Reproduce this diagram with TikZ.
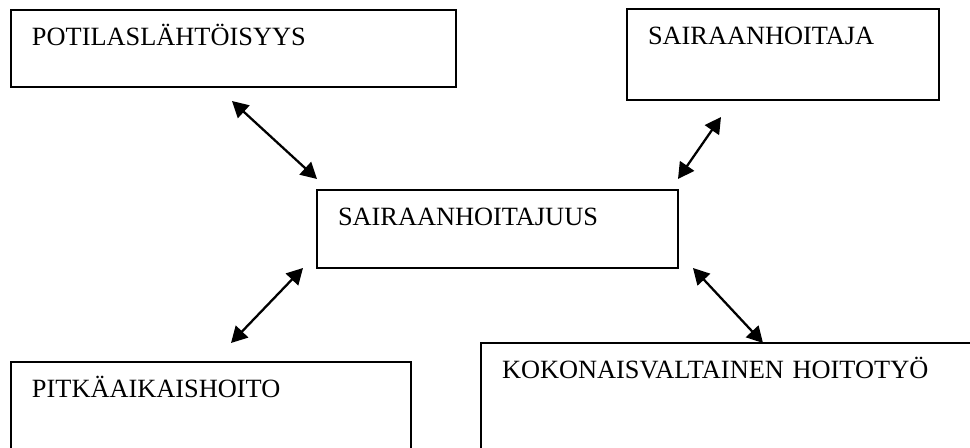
\documentclass[tikz,border=0pt]{standalone}
\usepackage{fontspec}
\setmainfont{Liberation Serif}
\usepackage{tikz}
\usetikzlibrary{arrows.meta}

\tikzset{
	box/.style={draw, line width=1.1pt, anchor=north west, outer sep=0pt, align=left,
		inner xsep=0.42cm, inner ysep=0pt, text height=0.72cm,
		font=\fontsize{15}{18}\selectfont},
	link/.style={<->, line width=1.3pt}
}

\begin{document}
\begin{tikzpicture}[x=0.02cm, y=-0.02cm, >={Triangle[length=0.32cm, width=0.34cm]}]
	\useasboundingbox (0,0) rectangle (970,448);
	\clip (0,0) rectangle (970,448);
	% boxes (pixel grid, y downwards)
	\node[box, text width=8.06cm, text depth=0.82cm] (pot) at (11,10) {POTILASLÄHTÖISYYS};
	\node[box, text width=5.40cm, text depth=1.10cm] (sh) at (627,9) {SAIRAANHOITAJA};
	\node[box, text width=6.38cm, text depth=0.84cm] (shj) at (317,190) {SAIRAANHOITAJUUS};
	\node[box, text width=7.16cm, text depth=1.68cm] (pit) at (11,362) {PITKÄAIKAISHOITO};
	\node[box, text width=9.56cm, text depth=1.90cm] (kok) at (481,343) {KOKONAISVALTAINEN HOITOTYÖ};
	% arrow ends
	\coordinate (pot-e) at (232,101);
	\coordinate (shj-nw) at (317,179);
	\coordinate (sh-e) at (721,117);
	\coordinate (shj-ne) at (678,179);
	\coordinate (shj-sw) at (303,268);
	\coordinate (pit-e) at (231,343);
	\coordinate (shj-se) at (693,268);
	\coordinate (kok-e) at (763,343);
	\draw[link] (pot-e) -- (shj-nw);
	\draw[link] (sh-e) -- (shj-ne);
	\draw[link] (shj-sw) -- (pit-e);
	\draw[link] (shj-se) -- (kok-e);
\end{tikzpicture}
\end{document}
